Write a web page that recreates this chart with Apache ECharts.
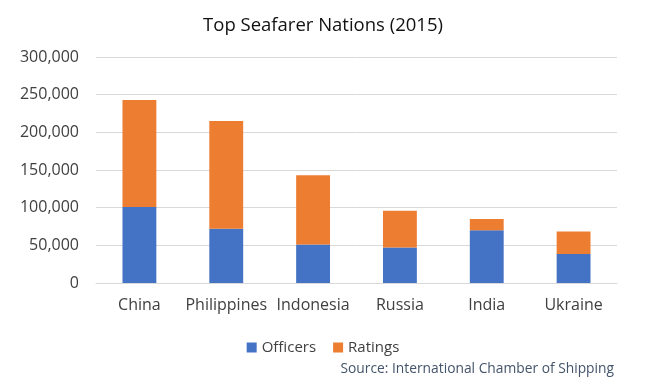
<!DOCTYPE html>
<html>
<head>
<meta charset="utf-8">
<script src="https://cdn.jsdelivr.net/npm/echarts@6/dist/echarts.min.js"></script>
<style>html,body{margin:0;padding:0;background:#fff}#c{width:646px;height:390px}</style>
</head>
<body>
<div id="c"></div>
<script>
const categories = ["China", "Philippines", "Indonesia", "Russia", "India", "Ukraine"];
const officers = [101000, 72000, 51000, 47000, 70000, 38500];
const ratings = [142000, 143000, 92000, 49000, 15000, 30000];
const yTicks = [0, 50000, 100000, 150000, 200000, 250000, 300000];

const FONT = "Open Sans";
const chart = echarts.init(document.getElementById('c'));
chart.setOption({
  animation: false,
  backgroundColor: '#fff',
  title: {
    text: 'Top Seafarer Nations (2015)',
    left: 'center', top: 11,
    textStyle: { fontFamily: FONT, fontSize: 18.5, fontWeight: 'normal', color: '#111' }
  },
  legend: {
    data: ['Officers', 'Ratings'],
    top: 335, left: 'center',
    icon: 'rect', itemWidth: 10, itemHeight: 10, itemGap: 17,
    textStyle: { fontFamily: FONT, fontSize: 15, color: '#404040' }
  },
  graphic: [{
    type: 'text', right: 32, top: 362,
    style: { text: 'Source: International Chamber of Shipping', font: '13.8px "Open Sans"', fill: '#44546A' }
  }],
  grid: { left: 96, right: 29, top: 57, bottom: 107 },
  xAxis: {
    type: 'category', data: categories,
    axisTick: { show: false },
    axisLine: { lineStyle: { color: '#D9D9D9' } },
    axisLabel: { interval: 0, fontFamily: FONT, fontSize: 16, color: '#404040', margin: 14 }
  },
  yAxis: {
    type: 'value', min: yTicks[0], max: yTicks[yTicks.length - 1], interval: 50000,
    axisLine: { show: false }, axisTick: { show: false },
    splitLine: { lineStyle: { color: '#D9D9D9' } },
    axisLabel: {
      fontFamily: FONT, fontSize: 16, color: '#404040', margin: 17,
      formatter: v => v.toLocaleString('en-US')
    }
  },
  series: [
    { name: 'Officers', type: 'bar', stack: 't', data: officers, barWidth: '39%',
      itemStyle: { color: '#4472C4' } },
    { name: 'Ratings', type: 'bar', stack: 't', data: ratings, barWidth: '39%',
      itemStyle: { color: '#ED7D31' } }
  ]
});
</script>
</body>
</html>
